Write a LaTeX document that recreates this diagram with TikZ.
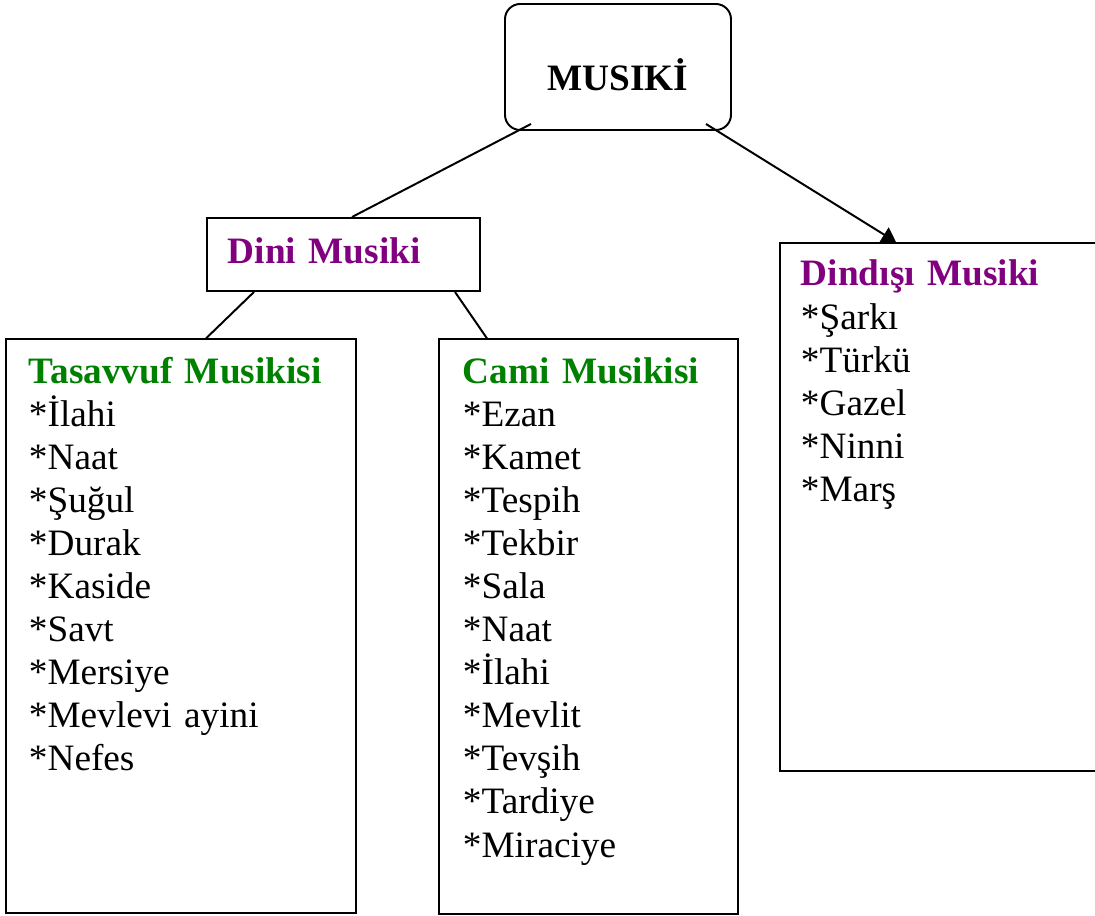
\documentclass[tikz,border=0pt]{standalone}
\usepackage{fontspec}
\setmainfont{Liberation Serif}
\usetikzlibrary{arrows.meta}
\definecolor{mpurple}{RGB}{128,0,128}
\definecolor{mgreen}{RGB}{0,128,0}

\begin{document}
\begin{tikzpicture}[
  font=\fontsize{26.5}{30.6}\selectfont,
  box/.style={draw, line width=1.4pt, anchor=north west, align=left, inner ysep=0pt},
  rel/.style={line width=1.4pt},
  arr/.style={line width=1.4pt, -{Triangle[length=3.5mm, width=4.2mm]}}
]
\useasboundingbox (0mm,0mm) rectangle (273.75mm,-228.75mm);
\clip (0mm,0mm) rectangle (273.75mm,-228.75mm);

\node[box, rounded corners=3.8mm, inner xsep=0pt, minimum width=56.5mm,
  text height=21.75mm, text depth=9.75mm] (mus) at (126mm,-0.75mm)
  {\textbf{MUSIKİ}};

\node[box, inner xsep=5.25mm, text width=57.75mm,
  text height=11.5mm, text depth=6.75mm] (dini) at (51.5mm,-54.25mm)
  {\textbf{\color{mpurple}Dini Musiki}};

\node[box, inner xsep=5.75mm, text width=76mm,
  text height=11mm, text depth=132.5mm] (tas) at (1.25mm,-84.6mm)
  {\textbf{\color{mgreen}Tasavvuf Musikisi}\\ {*}İlahi\\ {*}Naat\\ {*}Şuğul\\
   {*}Durak\\ {*}Kaside\\ {*}Savt\\ {*}Mersiye\\ {*}Mevlevi ayini\\ {*}Nefes};

\node[box, inner xsep=6mm, text width=62.75mm,
  text height=11.1mm, text depth=132.5mm] (cami) at (109.5mm,-84.6mm)
  {\textbf{\color{mgreen}Cami Musikisi}\\ {*}Ezan\\ {*}Kamet\\ {*}Tespih\\ {*}Tekbir\\
   {*}Sala\\ {*}Naat\\ {*}İlahi\\ {*}Mevlit\\ {*}Tevşih\\ {*}Tardiye\\ {*}Miraciye};

\node[box, inner xsep=5.25mm, text width=72.25mm,
  text height=10.75mm, text depth=121.25mm] (dind) at (194.75mm,-60.5mm)
  {\textbf{\color{mpurple}Dindışı Musiki}\\ {*}Şarkı\\ {*}Türkü\\ {*}Gazel\\
   {*}Ninni\\ {*}Marş};

\draw[rel] ([xshift=6.75mm, yshift=1.75mm]mus.south west) -- ([xshift=36.5mm]dini.north west);
\draw[arr] ([xshift=-6.5mm, yshift=1.75mm]mus.south east) -- ([xshift=29.25mm]dind.north west);
\draw[rel] ([xshift=12mm]dini.south west) -- ([xshift=50.25mm]tas.north west);
\draw[rel] ([xshift=62.25mm]dini.south west) -- ([xshift=12.25mm]cami.north west);
\end{tikzpicture}
\end{document}
